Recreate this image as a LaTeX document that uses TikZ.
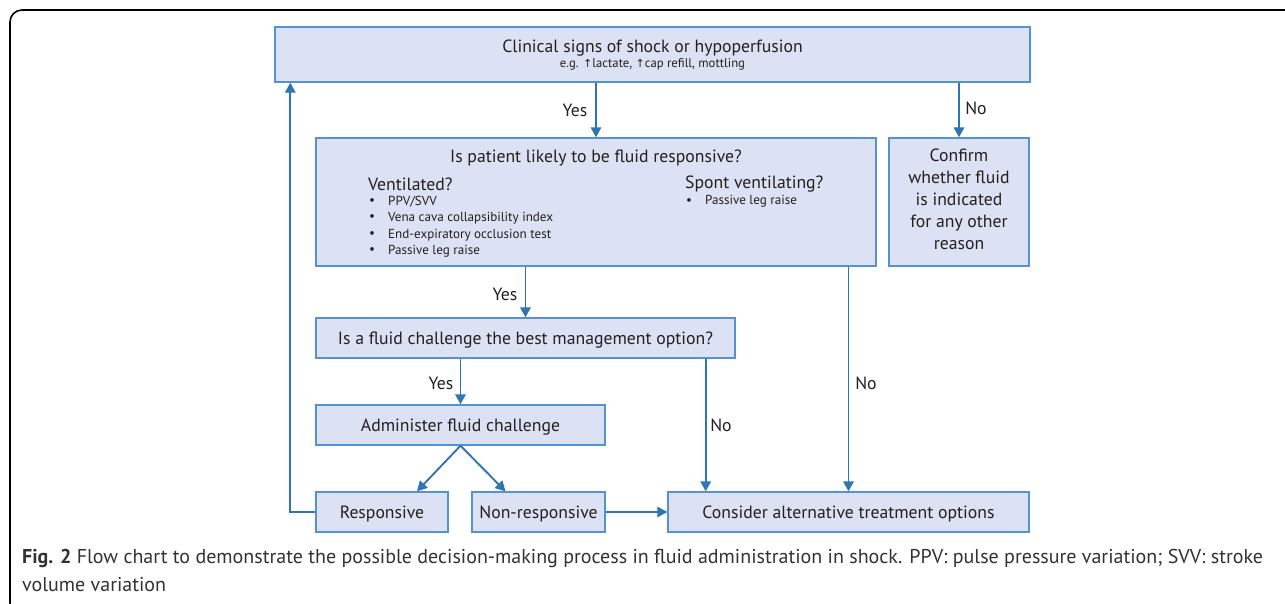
\documentclass[tikz,border=0pt]{standalone}
\usepackage{fontspec}
\setmainfont{PT Sans}
\newfontfamily\arrowfont{DejaVu Sans}
\usetikzlibrary{arrows.meta,calc}
\definecolor{boxfill}{RGB}{220,226,244}
\definecolor{boxline}{RGB}{84,146,208}
\definecolor{arrcol}{RGB}{46,117,182}
\definecolor{txt}{RGB}{35,31,32}
\definecolor{captxt}{RGB}{50,50,50}
\begin{document}
\begin{tikzpicture}[x=1pt,y=-1pt,
  box/.style={draw=boxline,fill=boxfill,line width=1.4pt,inner sep=0pt,anchor=center,text=txt,font=\fontsize{17.7}{20}\selectfont,text height=12.5pt,text depth=0.5pt},
  arr/.style={draw=arrcol,line width=1.9pt,-{Triangle[length=10pt,width=10.5pt]}},
  lbl/.style={text=txt,font=\fontsize{17.7}{20}\selectfont,inner sep=0pt,text height=12.5pt,text depth=0.5pt},
  small/.style={text=txt,font=\fontsize{13.1}{15}\selectfont,inner sep=0pt,anchor=west},
  mid/.style={text=txt,font=\fontsize{17.7}{20}\selectfont,inner sep=0pt,anchor=west}]
\useasboundingbox (0,0) rectangle (1285,603);
\begin{scope}
\clip (0,0) rectangle (1285,603);
\draw[line width=1.6pt,black,rounded corners=12pt] (10,10) rectangle (1310,615);
\end{scope}

% boxes
\node[box,minimum width=755pt,minimum height=55pt] (top) at (652.5,54.5) {};
\node[lbl] (topt1) at (652.5,46) {Clinical signs of shock or hypoperfusion};
\node[text=txt,inner sep=0pt,font=\fontsize{12.7}{14}\selectfont] (topt2) at (652.5,64) {e.g. {\arrowfont\fontsize{11}{12}\selectfont ↑}lactate, {\arrowfont\fontsize{11}{12}\selectfont ↑}cap refill, mottling};

\node[box,minimum width=560pt,minimum height=128pt] (q1) at (596,202) {};
\node[lbl] (q1t) at (596,156) {Is patient likely to be fluid responsive?};
\node[mid] (vent) at (368,184.5) {Ventilated?};
\node[small] (b1) at (369,201.5) {•};
\node[small] (i1) at (388,201.5) {PPV/SVV};
\node[small] (b2) at (369,218) {•};
\node[small] (i2) at (388,218) {Vena cava collapsibility index};
\node[small] (b3) at (369,235) {•};
\node[small] (i3) at (388,235) {End-expiratory occlusion test};
\node[small] (b4) at (369,251) {•};
\node[small] (i4) at (388,251) {Passive leg raise};
\node[mid] (spont) at (685,184.5) {Spont ventilating?};
\node[small] (b5) at (686,201.5) {•};
\node[small] (i5) at (705,201.5) {Passive leg raise};

\node[box,minimum width=140pt,minimum height=128pt,align=center,font=\fontsize{17.7}{22}\selectfont,text height=,text depth=] (confirm) at (959,202) {};
\node[text=txt,inner sep=0pt,align=center,font=\fontsize{17.7}{22}\selectfont] (confirmt) at (959,199) {Confirm\\whether fluid\\is indicated\\for any other\\reason};

\node[box,minimum width=419pt,minimum height=40pt] (q2) at (525.5,338) {Is a fluid challenge the best management option?};
\node[box,minimum width=289pt,minimum height=40pt] (admin) at (460.5,425) {Administer fluid challenge};
\node[box,minimum width=132pt,minimum height=40pt] (resp) at (382,512) {Responsive};
\node[box,minimum width=133pt,minimum height=40pt] (nonresp) at (538.5,512) {Non-responsive};
\node[box,minimum width=361pt,minimum height=40pt] (consider) at (848.5,512) {Consider alternative treatment options};

% connectors
\draw[arr] (top.south -| q1.north) -- (q1.north);
\draw[arr] (top.south -| confirm.north) -- (confirm.north);
\draw[arr] (q1.south -| q2.north) -- (q2.north);
\draw[arr] (q2.south -| admin.north) -- (admin.north);
\draw[arr] (admin.south) -- ([xshift=35pt]resp.north);
\draw[arr] (admin.south) -- ([xshift=-33pt]nonresp.north);
\draw[arr] (nonresp.east) -- (consider.west);
\draw[arr] ([xshift=-30pt]q2.south east) -- ([xshift=-30pt]q2.south east |- consider.north);
\draw[arr] (q1.south -| consider.north) -- (consider.north);
\draw[arr] (resp.west) -| ([xshift=16pt]top.south west);

% labels
\node[lbl] (y1) at (575,110) {Yes};
\node[lbl] (n1) at (976,108) {No};
\node[lbl] (y2) at (505,294) {Yes};
\node[lbl] (y3) at (441,383) {Yes};
\node[lbl] (n2) at (721,425) {No};
\node[lbl] (n3) at (866,383) {No};

% caption
\node[anchor=west,inner sep=0pt,text=captxt,font=\fontsize{20}{24}\selectfont] (cap1) at (22,558) {\textbf{Fig. 2} Flow chart to demonstrate the possible decision-making process in fluid administration in shock. PPV: pulse pressure variation; SVV: stroke};
\node[anchor=west,inner sep=0pt,text=captxt,font=\fontsize{20}{24}\selectfont] (cap2) at (22,585) {volume variation};
\end{tikzpicture}
\end{document}
